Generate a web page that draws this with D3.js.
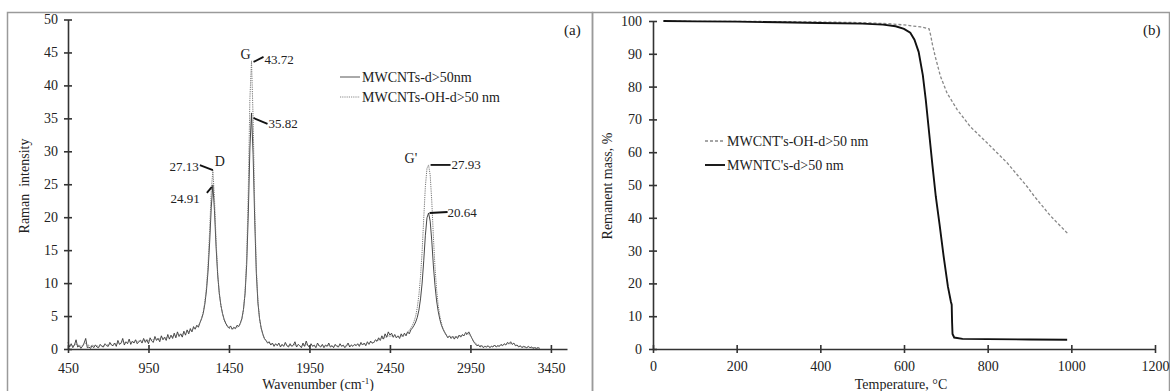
<!DOCTYPE html>
<html>
<head>
<meta charset="utf-8">
<script src="https://cdnjs.cloudflare.com/ajax/libs/d3/7.8.5/d3.min.js"></script>
<style>
  body { margin: 0; background: #fff; }
  svg text { font-family: "Liberation Serif", "DejaVu Serif", serif; }
  .axis path, .axis line { stroke: #333; stroke-width: 1.6; }
  .axis text { font-size: 14px; fill: #222; }
</style>
</head>
<body>
<svg width="1170" height="391"></svg>
<script>
// ---- (a) Raman spectra, sampled every 10 cm-1 starting at 450
const ramanStart = 450;
const ramanStep = 10;
const ramanPristine = [
  1.0,0.3,0.8,0.2,0.6,1.4,0.3,0.5,0.1,0.4,
  0.9,1.6,0.2,0.3,0.1,0.5,0.2,0.6,0.3,0.2,
  0.7,0.4,0.3,0.8,0.5,0.4,1.0,0.6,0.5,0.9,
  0.4,1.3,0.7,0.9,1.6,0.6,1.1,0.8,1.5,0.7,
  1.2,0.9,1.4,0.8,1.1,1.3,0.9,1.6,1.0,1.4,
  0.8,1.7,1.2,1.0,1.9,1.3,1.6,1.1,2.0,1.4,
  1.8,1.3,2.2,1.5,2.1,1.6,2.4,1.7,2.6,1.9,
  2.3,1.8,2.7,2.1,2.9,2.3,3.1,2.6,3.4,3.0,
  3.6,3.3,4.0,4.6,5.4,6.8,8.8,11.8,16.2,21.5,
  24.91,21.0,15.5,11.2,8.4,6.6,5.4,4.5,3.9,3.5,
  3.2,3.5,3.0,3.3,3.1,3.6,3.4,3.9,4.6,6.0,
  8.4,12.8,20.5,30.5,35.82,29.5,19.5,11.5,7.0,4.6,
  3.2,2.3,1.6,1.3,0.9,1.1,0.6,0.9,0.4,0.8,
  0.5,0.9,0.3,0.7,0.4,1.0,0.5,0.3,0.8,0.4,
  0.6,1.1,0.3,0.7,0.5,0.2,0.9,0.4,1.2,0.5,
  0.3,0.8,0.4,0.6,0.2,0.9,0.5,0.3,0.7,0.2,
  0.6,0.4,0.9,0.3,0.5,0.2,0.7,0.4,0.3,0.8,
  0.4,0.6,0.2,0.5,0.9,0.3,0.6,0.4,0.7,0.5,
  0.8,0.4,1.0,0.6,0.9,0.5,1.1,0.7,1.2,0.9,
  1.0,1.4,1.2,1.7,1.3,2.0,1.5,2.3,1.8,2.6,
  2.1,2.4,1.8,2.2,1.7,2.0,1.6,2.3,1.9,2.4,
  2.0,2.6,2.3,2.9,3.2,3.6,4.1,4.8,5.9,7.6,
  10.0,13.4,17.2,19.9,20.64,19.4,16.4,12.6,9.6,7.3,
  5.7,4.5,3.6,3.0,2.5,2.1,1.7,2.0,1.6,1.9,
  1.5,1.9,1.6,2.1,1.8,2.2,2.0,2.5,2.3,2.6,
  2.1,1.6,1.1,0.8,0.5,0.6,0.3,0.5,0.2,0.4,
  0.3,0.5,0.2,0.4,0.3,0.6,0.3,0.5,0.4,0.7,
  0.5,0.8,0.6,1.0,0.8,1.1,0.7,0.9,0.5,0.6,
  0.3,0.5,0.2,0.4,0.3,0.2,0.4,0.2,0.3,0.1,
  0.2,0.1,0.2,0.1
];
const ramanOH = [
  0.6,0.5,0.7,0.4,0.6,0.8,0.5,0.6,0.4,0.5,
  0.7,0.9,0.5,0.6,0.4,0.6,0.5,0.6,0.5,0.4,
  0.6,0.5,0.5,0.7,0.6,0.6,0.8,0.7,0.7,0.8,
  0.7,0.9,0.8,0.9,1.1,0.9,1.0,1.0,1.2,1.0,
  1.1,1.1,1.3,1.1,1.2,1.3,1.2,1.4,1.3,1.4,
  1.3,1.5,1.4,1.4,1.6,1.5,1.6,1.5,1.8,1.6,
  1.7,1.7,1.9,1.8,2.0,1.9,2.1,2.0,2.3,2.1,
  2.2,2.2,2.5,2.4,2.6,2.6,2.8,2.8,3.1,3.1,
  3.4,3.6,4.0,4.7,5.6,7.1,9.3,12.8,18.0,24.0,
  27.13,22.8,16.4,11.6,8.5,6.6,5.3,4.4,3.8,3.4,
  3.1,3.2,3.0,3.1,3.1,3.3,3.4,3.8,4.5,5.9,
  8.6,13.8,24.0,38.0,43.72,35.0,21.5,12.2,7.2,4.6,
  3.1,2.2,1.6,1.2,1.0,0.9,0.7,0.8,0.6,0.7,
  0.6,0.7,0.5,0.6,0.5,0.7,0.5,0.5,0.6,0.5,
  0.5,0.7,0.4,0.6,0.5,0.4,0.6,0.5,0.7,0.5,
  0.4,0.6,0.5,0.5,0.4,0.6,0.5,0.4,0.6,0.4,
  0.5,0.5,0.6,0.4,0.5,0.4,0.6,0.5,0.4,0.6,
  0.5,0.5,0.4,0.5,0.7,0.5,0.6,0.5,0.6,0.6,
  0.7,0.6,0.8,0.7,0.8,0.7,0.9,0.8,1.0,0.9,
  1.0,1.2,1.2,1.4,1.4,1.6,1.6,1.8,1.8,2.0,
  1.9,2.0,1.8,1.9,1.8,1.9,1.8,2.0,1.9,2.1,
  2.2,2.6,2.8,3.2,3.6,4.2,5.0,6.3,8.2,11.0,
  14.8,19.8,24.6,27.4,27.93,26.4,22.4,17.0,12.4,9.0,
  6.6,5.0,3.9,3.1,2.6,2.2,1.9,1.9,1.8,1.9,
  1.8,1.9,1.9,2.0,2.0,2.1,2.1,2.2,2.2,2.3,
  2.0,1.6,1.2,0.9,0.7,0.6,0.5,0.5,0.4,0.4,
  0.4,0.4,0.3,0.4,0.4,0.5,0.4,0.5,0.5,0.6,
  0.6,0.7,0.7,0.8,0.8,0.8,0.7,0.7,0.6,0.5,
  0.4,0.4,0.3,0.3,0.3,0.2,0.3,0.2,0.2,0.2,
  0.2,0.1,0.2,0.1
];
const ramanXTicks = [450, 950, 1450, 1950, 2450, 2950, 3450];
const ramanYTicks = [0, 5, 10, 15, 20, 25, 30, 35, 40, 45, 50];
const ramanSeriesNames = ['MWCNTs-d>50nm', 'MWCNTs-OH-d>50 nm'];
// peak notes: [band letter, wavenumber, value]
const peakNotes = [
  ['G', 1590, 43.72], ['G', 1590, 35.82],
  ['D', 1350, 27.13], ['D', 1350, 24.91],
  ["G'", 2690, 27.93], ["G'", 2690, 20.64]
];

// ---- (b) TGA curves: [temperature °C, remanent mass %]
const tgaOH = [
  [25,100],[100,99.9],[200,99.9],[300,99.8],[400,99.7],[500,99.5],[560,99.2],
  [600,98.8],[640,98.2],[660,97.6],[664,95.5],[668,92.8],[675,89],[687,83.2],
  [703,78],[727,73],[759,67.7],[799,62.8],[847,56.7],[895,49.4],[910,46.8],
  [950,40.6],[993,35]
];
const tgaPristine = [
  [25,100],[100,99.9],[200,99.8],[300,99.6],[400,99.4],[500,99.2],[550,98.9],
  [580,98.4],[600,97.6],[615,96.4],[625,94.3],[635,90.6],[645,83.5],[652,76],
  [660,66],[668,56],[676,46.5],[685,38],[695,28],[705,19],[712,14.5],[714,13.5],
  [715,8],[716,4.6],[720,3.5],[740,3.1],[800,3.0],[900,2.9],[990,2.8]
];
const tgaXTicks = [0, 200, 400, 600, 800, 1000, 1200];
const tgaYTicks = [0, 10, 20, 30, 40, 50, 60, 70, 80, 90, 100];
const tgaSeriesNames = ["MWCNT's-OH-d>50 nm", "MWNTC's-d>50 nm"];

const svg = d3.select('svg');

// panel frames
svg.append('rect').attr('x', 7.5).attr('y', 12.5).attr('width', 585).attr('height', 400)
  .attr('fill', 'none').attr('stroke', '#9a9a9a').attr('stroke-width', 1.5);
svg.append('rect').attr('x', 592.5).attr('y', 12.5).attr('width', 577).attr('height', 400)
  .attr('fill', 'none').attr('stroke', '#9a9a9a').attr('stroke-width', 1.5);

function crossTicks(g, horizontal) {
  g.attr('font-family', null);
  g.select('.domain').attr('stroke-width', 1.8);
  g.selectAll('.tick line').each(function() {
    let l = d3.select(this);
    if (horizontal) l.attr('x1', -4).attr('x2', 4);
    else l.attr('y1', -4).attr('y2', 4);
  });
}

// ================= panel (a)
const xA = d3.scaleLinear().domain([450, 3550]).range([68, 567]);
const yA = d3.scaleLinear().domain([0, 50]).range([349, 19.5]);

let toPts = vals => vals.map((v, i) => [ramanStart + i * ramanStep, v]);
let lineA = d3.line().x(d => xA(d[0])).y(d => yA(d[1]));

svg.append('path').datum(toPts(ramanPristine))
  .attr('d', lineA).attr('fill', 'none')
  .attr('stroke', '#333').attr('stroke-width', 0.9);
svg.append('path').datum(toPts(ramanOH))
  .attr('d', lineA).attr('fill', 'none')
  .attr('stroke', '#777').attr('stroke-width', 1).attr('stroke-dasharray', '1.2,1');

svg.append('g').classed('axis', true)
  .attr('transform', `translate(0,${yA(0)})`)
  .call(d3.axisBottom(xA).tickValues(ramanXTicks).tickFormat(d3.format('d'))
    .tickSize(0).tickSizeOuter(0).tickPadding(14))
  .call(g => crossTicks(g, false));
svg.append('g').classed('axis', true)
  .attr('transform', `translate(${xA(450)},0)`)
  .call(d3.axisLeft(yA).tickValues(ramanYTicks).tickSize(0).tickSizeOuter(0).tickPadding(10))
  .call(g => crossTicks(g, true));

// peak annotations: leader offsets from the peak point, and text placement
const noteLayout = [
  {l: [2, 1, 12, -4], t: [13, 3], anchor: 'start'},
  {l: [2, 5, 16, 11], t: [17, 15], anchor: 'start'},
  {l: [0, 0, -13, -5], t: [-14, 1], anchor: 'end'},
  {l: [-1, 2, -6, 8], t: [-13, 18], anchor: 'end'},
  {l: [2, 0, 22, 0], t: [23, 4], anchor: 'start'},
  {l: [1, 0, 19, -1], t: [19, 4], anchor: 'start'}
];
peakNotes.forEach((n, i) => {
  let px = xA(n[1]), py = yA(n[2]), lay = noteLayout[i];
  svg.append('line')
    .attr('x1', px + lay.l[0]).attr('y1', py + lay.l[1])
    .attr('x2', px + lay.l[2]).attr('y2', py + lay.l[3])
    .attr('stroke', '#111').attr('stroke-width', 1.8);
  svg.append('text').text(n[2].toFixed(2))
    .attr('x', px + lay.t[0]).attr('y', py + lay.t[1])
    .attr('text-anchor', lay.anchor)
    .attr('font-size', 13).attr('fill', '#222');
});
// band letters over the highest peak of each band
const bandLetterPos = {G: [-11, -2], D: [2, -4], "G'": [-24, -2]};
d3.groups(peakNotes, d => d[0]).forEach(([band, notes]) => {
  let top = d3.max(notes, d => d[2]);
  let off = bandLetterPos[band];
  svg.append('text').text(band)
    .attr('x', xA(notes[0][1]) + off[0]).attr('y', yA(top) + off[1])
    .attr('font-size', 14).attr('fill', '#222');
});

// legend (a)
ramanSeriesNames.forEach((name, i) => {
  let y = 77 + i * 20;
  svg.append('line').attr('x1', 340).attr('x2', 360).attr('y1', y).attr('y2', y)
    .attr('stroke', i ? '#888' : '#555').attr('stroke-width', 1)
    .attr('stroke-dasharray', i ? '1.2,1' : null);
  svg.append('text').text(name).attr('x', 362).attr('y', y + 5)
    .attr('font-size', 14).attr('fill', '#222');
});
svg.append('text').text('(a)').attr('x', 564).attr('y', 35)
  .attr('font-size', 15).attr('fill', '#222');

svg.append('text').text('Raman  intensity')
  .style('white-space', 'pre')
  .attr('transform', 'translate(29,186) rotate(-90)')
  .attr('text-anchor', 'middle').attr('font-size', 14).attr('fill', '#222');
let xt = svg.append('text').attr('x', 318).attr('y', 389)
  .attr('text-anchor', 'middle').attr('font-size', 14).attr('fill', '#222');
xt.append('tspan').text('Wavenumber (cm');
xt.append('tspan').text('-1').attr('font-size', 9).attr('dy', -5);
xt.append('tspan').text(')').attr('dy', 5);

// ================= panel (b)
const xB = d3.scaleLinear().domain([0, 1200]).range([653, 1155]);
const yB = d3.scaleLinear().domain([0, 100]).range([349, 21]);
let lineB = d3.line().x(d => xB(d[0])).y(d => yB(d[1]));

svg.append('path').datum(tgaOH).attr('d', lineB).attr('fill', 'none')
  .attr('stroke', '#888').attr('stroke-width', 1.3).attr('stroke-dasharray', '3,2');
svg.append('path').datum(tgaPristine).attr('d', lineB).attr('fill', 'none')
  .attr('stroke', '#111').attr('stroke-width', 1.9);

svg.append('g').classed('axis', true)
  .attr('transform', `translate(0,${yB(0)})`)
  .call(d3.axisBottom(xB).tickValues(tgaXTicks).tickFormat(d3.format('d'))
    .tickSize(0).tickSizeOuter(0).tickPadding(12))
  .call(g => crossTicks(g, false));
svg.append('g').classed('axis', true)
  .attr('transform', `translate(${xB(0)},0)`)
  .call(d3.axisLeft(yB).tickValues(tgaYTicks).tickSize(0).tickSizeOuter(0).tickPadding(11))
  .call(g => crossTicks(g, true));

tgaSeriesNames.forEach((name, i) => {
  let y = 141 + i * 24;
  svg.append('line').attr('x1', 705).attr('x2', 725).attr('y1', y).attr('y2', y)
    .attr('stroke', i ? '#111' : '#888').attr('stroke-width', i ? 1.9 : 1.3)
    .attr('stroke-dasharray', i ? null : '3,2');
  svg.append('text').text(name).attr('x', 727).attr('y', y + 5)
    .attr('font-size', 14).attr('fill', '#222');
});
svg.append('text').text('(b)').attr('x', 1143).attr('y', 35)
  .attr('font-size', 15).attr('fill', '#222');

svg.append('text').text('Remanent mass, %')
  .attr('transform', 'translate(612,186) rotate(-90)')
  .attr('text-anchor', 'middle').attr('font-size', 14).attr('fill', '#222');
svg.append('text').text('Temperature, °C').attr('x', 901).attr('y', 389)
  .attr('text-anchor', 'middle').attr('font-size', 14).attr('fill', '#222');
</script>
</body>
</html>
